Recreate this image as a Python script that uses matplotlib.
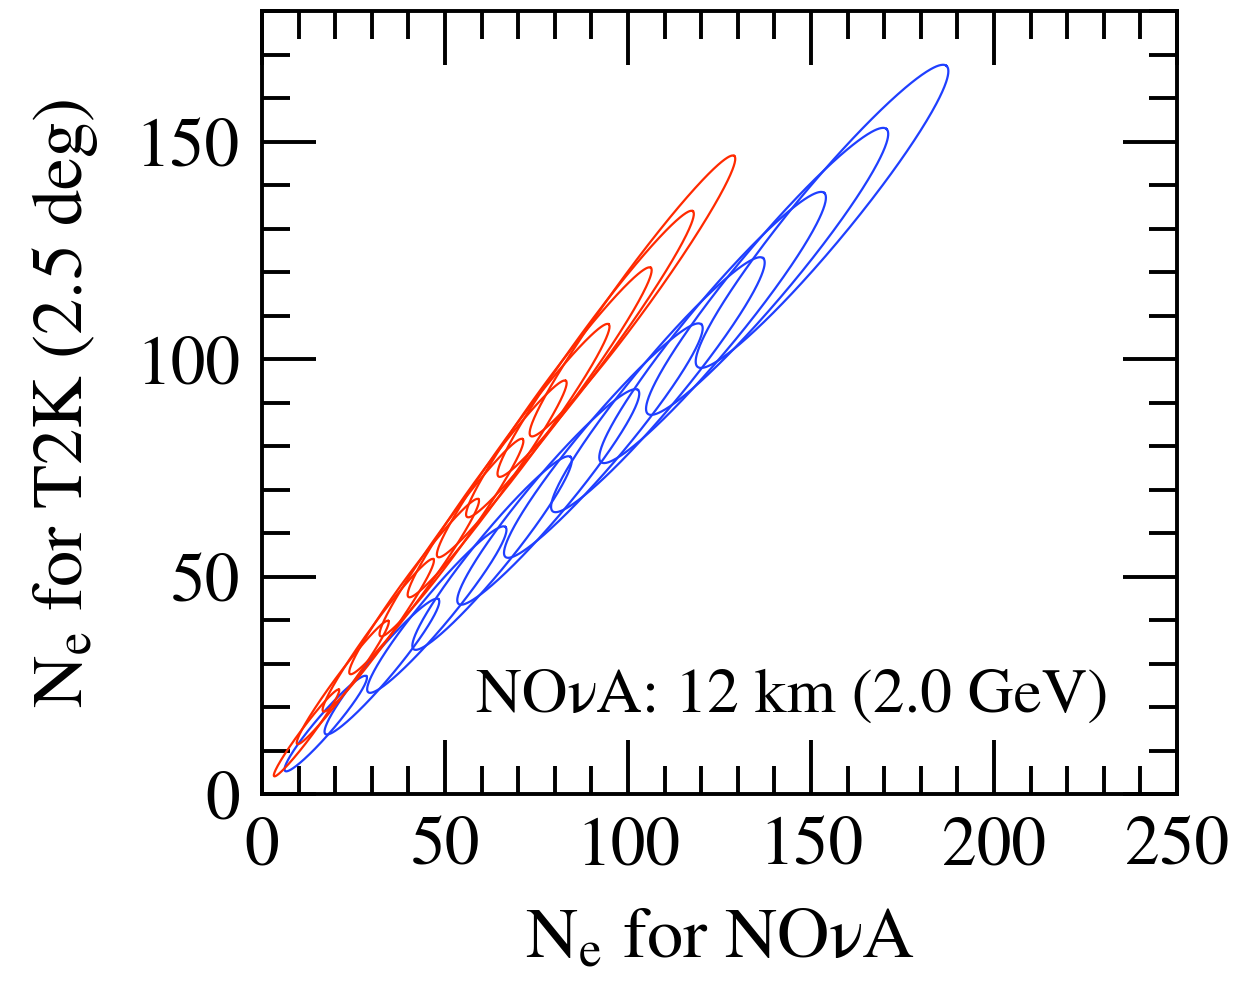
import numpy as np
import matplotlib
matplotlib.use('Agg')
import matplotlib.pyplot as plt
from matplotlib.ticker import MultipleLocator

plt.rcParams['font.family'] = ['STIXGeneral', 'DejaVu Serif']
plt.rcParams['mathtext.fontset'] = 'stix'

# Ellipse end points (lower tip / upper tip): (N_e NOvA, N_e T2K)
red_low_x = [3.3, 9.6, 16.7, 24.0, 32.3, 40.0, 48.0, 56.0, 64.6, 73.4]
red_low_y = [4.1, 11.5, 19.0, 27.6, 36.3, 45.3, 54.5, 63.7, 73.0, 82.3]
red_up_x = [21.0, 34.5, 46.8, 59.1, 71.2, 83.0, 94.7, 106.2, 117.7, 129.0]
red_up_y = [24.0, 39.8, 54.0, 67.8, 81.6, 95.0, 108.0, 121.0, 134.0, 146.7]

blue_low_x = [6.3, 17.3, 29.0, 41.4, 53.7, 66.5, 79.4, 92.6, 105.4, 119.0]
blue_low_y = [5.3, 13.8, 23.4, 33.3, 43.7, 54.5, 65.0, 76.3, 87.4, 98.2]
blue_up_x = [28.5, 48.2, 66.5, 84.3, 102.7, 120.0, 136.9, 153.6, 170.6, 187.0]
blue_up_y = [27.1, 44.8, 61.4, 77.5, 92.9, 108.0, 123.2, 138.2, 152.9, 167.4]

# minor / major axis ratio of the ellipses
red_ratio = 0.105
blue_ratio = 0.145

x_ticks = [0, 50, 100, 150, 200, 250]
y_ticks = [0, 50, 100, 150]

RED = '#ff2a00'
BLUE = '#1f3fff'

fig = plt.figure(figsize=(12.39, 9.87), dpi=100)
ax = fig.add_axes([0.2115, 0.1945, 0.7385, 0.7933])
ax.set_xlim(0, 250)
ax.set_ylim(0, 180)


def draw_ellipses(lx, ly, ux, uy, ratio, color):
    t = np.linspace(0, 2 * np.pi, 400)
    # work in display space so the minor axis is truly perpendicular on screen
    for x0, y0, x1, y1 in zip(lx, ly, ux, uy):
        p0 = ax.transData.transform((x0, y0))
        p1 = ax.transData.transform((x1, y1))
        c = (p0 + p1) / 2
        A = (p1 - p0) / 2
        a = np.hypot(*A)
        perp = np.array([-A[1], A[0]]) / a
        B = perp * a * ratio
        pts = c[None, :] + np.cos(t)[:, None] * A[None, :] + np.sin(t)[:, None] * B[None, :]
        d = ax.transData.inverted().transform(pts)
        ax.plot(d[:, 0], d[:, 1], color=color, lw=1.6)


draw_ellipses(blue_low_x, blue_low_y, blue_up_x, blue_up_y, blue_ratio, BLUE)
draw_ellipses(red_low_x, red_low_y, red_up_x, red_up_y, red_ratio, RED)

ax.set_xticks(x_ticks)
ax.set_yticks(y_ticks)
ax.xaxis.set_minor_locator(MultipleLocator(10))
ax.yaxis.set_minor_locator(MultipleLocator(10))
ax.tick_params(which='both', direction='in', top=True, right=True, width=2.8, labelsize=50, pad=16)
ax.tick_params(which='major', length=39)
ax.tick_params(which='minor', length=20)
for s in ax.spines.values():
    s.set_linewidth(2.8)

ax.set_xlabel(r'N$_{\mathrm{e}}$ for NOνA', fontsize=52, labelpad=20)
ax.set_ylabel(r'N$_{\mathrm{e}}$ for T2K (2.5 deg)', fontsize=52, labelpad=26)
ax.text(0.925, 0.125, 'NOνA: 12 km (2.0 GeV)', transform=ax.transAxes,
        ha='right', va='center', fontsize=45.5)

fig.savefig('out.png', dpi=100)
